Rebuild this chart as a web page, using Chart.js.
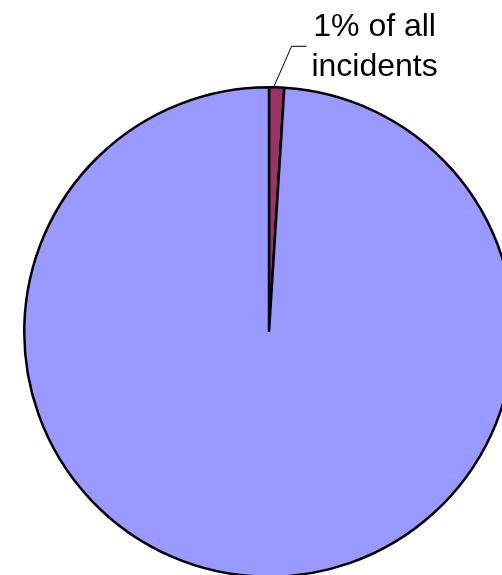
<!DOCTYPE html>
<html>
<head>
<meta charset="utf-8">
<script src="https://cdn.jsdelivr.net/npm/chart.js@4"></script>
<style>
	html, body { margin: 0; padding: 0; background: #ffffff; overflow: hidden; }
	#wrap { width: 538px; height: 578px; position: relative; }
</style>
</head>
<body>
<div id="wrap"><canvas id="pie_chart"></canvas></div>
<script>
const labels = ["Selected incidents", "Other incidents"];
const values = [1, 99];
const colours = ["#993366", "#9999FF"];
const calloutText = ["1% of all", "incidents"];

// leader line + two-line label for the small slice
const callout = {
	id: 'callout',
	afterDraw(chart) {
		const arc = chart.getDatasetMeta(0).data[0];
		const ang = arc.startAngle + (arc.endAngle - arc.startAngle) * 0.3;
		const x0 = arc.x + Math.cos(ang) * arc.outerRadius;
		const y0 = arc.y + Math.sin(ang) * arc.outerRadius;
		const x1 = x0 + 18, y1 = y0 - 41;
		const x2 = x1 + 15;
		const c = chart.ctx;
		c.save();
		c.strokeStyle = '#000000';
		c.lineWidth = 1;
		c.beginPath();
		c.moveTo(x0, y0);
		c.lineTo(x1, y1);
		c.lineTo(x2, y1);
		c.stroke();
		c.fillStyle = '#000000';
		c.font = '32px Arial, "Liberation Sans", sans-serif';
		c.textAlign = 'center';
		c.textBaseline = 'alphabetic';
		c.fillText(calloutText[0], x2 + 68, y1 - 10);
		c.fillText(calloutText[1], x2 + 68, y1 + 30);
		c.restore();
	}
};

new Chart(document.getElementById('pie_chart'), {
	type: 'pie',
	data: {
		labels: labels,
		datasets: [{
			data: values,
			backgroundColor: colours,
			borderColor: '#000000',
			borderWidth: 2.5,
		}],
	},
	options: {
		responsive: true,
		maintainAspectRatio: false,
		animation: false,
		layout: {
			padding: { left: 23, right: 23, top: 86, bottom: 0 },
		},
		plugins: {
			legend: { display: false },
			tooltip: { enabled: false },
		},
	},
	plugins: [callout],
});
</script>
</body>
</html>
